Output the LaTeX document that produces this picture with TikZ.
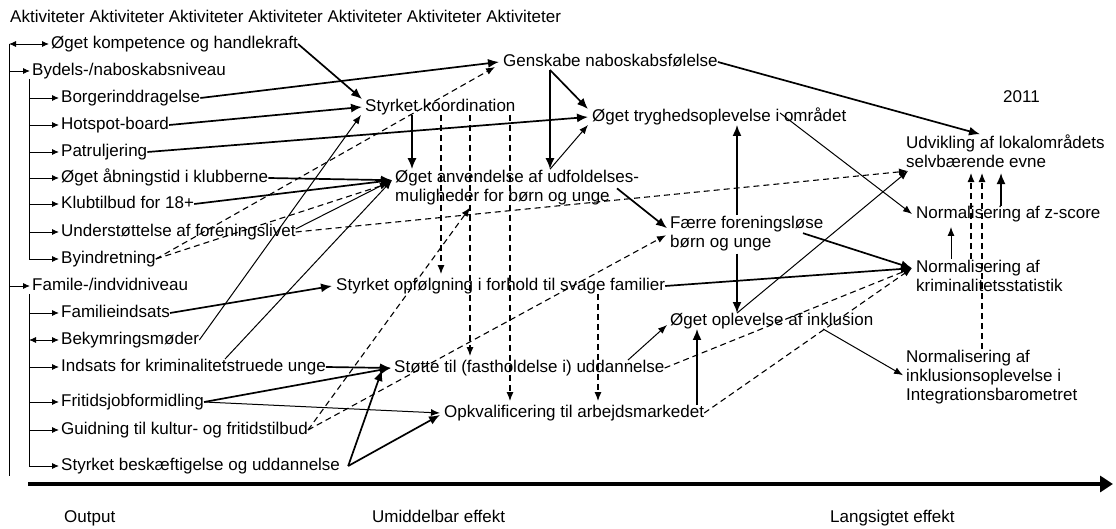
\documentclass[tikz,border=0pt]{standalone}
\usepackage{fontspec}
\setmainfont{Liberation Sans}
\usetikzlibrary{arrows.meta}
\tikzset{
  txt/.style={anchor=west, inner sep=0pt, text height=12pt, text depth=3.5pt},
  blk/.style={anchor=north west, inner sep=0pt, align=left},
  heavy/.style={line width=1.7pt, -{Latex[length=11pt,width=9pt]}},
  light/.style={line width=1pt, -{Latex[length=9pt,width=7pt]}},
  broken/.style={line width=1.1pt, dash pattern=on 6pt off 4pt, -{Latex[length=9pt,width=7pt]}},
  tree/.style={line width=0.9pt, -{Latex[length=7pt,width=6pt]}},
  twoway/.style={line width=0.9pt, {Latex[length=7pt,width=6pt]}-{Latex[length=7pt,width=6pt]}},
}
\begin{document}
\begin{tikzpicture}[x=1pt,y=-1pt,font=\fontsize{17}{19}\selectfont]
\useasboundingbox (0,0) rectangle (1116,529);

\node[txt] (akt) at (10,18) {Aktiviteter Aktiviteter Aktiviteter Aktiviteter Aktiviteter Aktiviteter Aktiviteter};
\node[txt] (komp) at (51,44) {Øget kompetence og handlekraft};
\node[txt] (byd) at (32,71) {Bydels-/naboskabsniveau};
\node[txt] (borg) at (61,98) {Borgerinddragelse};
\node[txt] (hot) at (61,125) {Hotspot-board};
\node[txt] (pat) at (61,152) {Patruljering};
\node[txt] (aabn) at (61,178) {Øget åbningstid i klubberne};
\node[txt] (klub) at (61,204) {Klubtilbud for 18+};
\node[txt] (fore) at (61,232) {Understøttelse af foreningslivet};
\node[txt] (byi) at (61,259) {Byindretning};
\node[txt] (fam) at (32,286) {Famile-/indvidniveau};
\node[txt] (fami) at (61,313) {Familieindsats};
\node[txt] (bek) at (61,340) {Bekymringsmøder};
\node[txt] (inds) at (61,367) {Indsats for kriminalitetstruede unge};
\node[txt] (frit) at (61,402) {Fritidsjobformidling};
\node[txt] (guid) at (61,430) {Guidning til kultur- og fritidstilbud};
\node[txt] (besk) at (61,466) {Styrket beskæftigelse og uddannelse};

\node[txt] (koord) at (365,107) {Styrket koordination};
\node[txt] (gensk) at (503,62) {Genskabe naboskabsfølelse};
\node[txt] (tryg) at (592,117) {Øget tryghedsoplevelse i området};
\node[blk] (anv) at (395,169.2) {\strut Øget anvendelse af udfoldelses-\\muligheder for børn og unge\strut};
\node[blk] (faerre) at (670,215.2) {\strut Færre foreningsløse\\børn og unge\strut};
\node[txt] (opf) at (336,286) {Styrket opfølgning i forhold til svage familier};
\node[txt] (stoette) at (394,368) {Støtte til (fastholdelse i) uddannelse};
\node[txt] (opkv) at (444,413) {Opkvalificering til arbejdsmarkedet};
\node[txt] (inkl) at (670,321) {Øget oplevelse af inklusion};

\node[txt] (aar) at (1003,98) {2011};
\node[blk] (udv) at (906,134.2) {\strut Udvikling af lokalområdets\\selvbærende evne\strut};
\node[txt] (zscore) at (916,214) {Normalisering af z-score};
\node[blk] (krim) at (916,259.2) {\strut Normalisering af\\kriminalitetsstatistik\strut};
\node[blk] (barom) at (906,349.2) {\strut Normalisering af\\inklusionsoplevelse i\\Integrationsbarometret\strut};

\node[txt] (output) at (64,518) {Output};
\node[txt] (umid) at (372,518) {Umiddelbar effekt};
\node[txt] (lang) at (830,518) {Langsigtet effekt};

\coordinate (trunk) at (9,44);
\coordinate (trunkend) at (9,476);
\coordinate (bydx) at ([xshift=-3pt]byd.south west);
\coordinate (famx) at ([xshift=-3pt]fam.south west);
\coordinate (axstart) at (28,484);
\coordinate (axend) at (1113,484);

\draw[line width=0.9pt] (trunk) -- (trunkend);
\draw[twoway] (trunk) -- ([xshift=-2pt]komp.west);
\draw[tree] (trunk |- byd.west) -- ([xshift=-2pt]byd.west);
\draw[tree] (trunk |- fam.west) -- ([xshift=-2pt]fam.west);
\draw[tree] (bydx |- borg.west) -- ([xshift=-2pt]borg.west);
\draw[tree] (bydx |- hot.west) -- ([xshift=-2pt]hot.west);
\draw[tree] (bydx |- pat.west) -- ([xshift=-2pt]pat.west);
\draw[tree] (bydx |- aabn.west) -- ([xshift=-2pt]aabn.west);
\draw[tree] (bydx |- klub.west) -- ([xshift=-2pt]klub.west);
\draw[tree] (bydx |- fore.west) -- ([xshift=-2pt]fore.west);
\draw[tree] (bydx) |- ([xshift=-2pt]byi.west);
\draw[tree] (famx |- fami.west) -- ([xshift=-2pt]fami.west);
\draw[twoway] (famx |- bek.west) -- ([xshift=-2pt]bek.west);
\draw[tree] (famx |- inds.west) -- ([xshift=-2pt]inds.west);
\draw[tree] (famx |- frit.west) -- ([xshift=-2pt]frit.west);
\draw[tree] (famx |- guid.west) -- ([xshift=-2pt]guid.west);
\draw[tree] (famx) |- ([xshift=-2pt]besk.west);

\draw[line width=4pt, -{Triangle[length=13pt,width=16pt]}] (axstart) -- (axend);

\draw[heavy] (komp.east) -- ([xshift=-3pt]koord.north west);
\draw[heavy] (borg.east) -- ([xshift=-4pt]gensk.west);
\draw[heavy] (hot.east) -- ([xshift=-3pt]koord.west);
\draw[heavy] (pat.east) -- ([xshift=-4pt]tryg.west);
\draw[heavy] (aabn.east) -- ([xshift=-3pt,yshift=-11pt]anv.north west);
\draw[heavy] (klub.east) -- ([xshift=-3pt,yshift=-11pt]anv.north west);
\draw[light] ([yshift=3pt]fore.east) -- ([xshift=-3pt,yshift=-11pt]anv.north west);
\draw[light] (bek.east) -- ([xshift=-4pt]koord.south west);
\draw[light] ([xshift=164pt]inds.north west) -- ([xshift=-3pt,yshift=-11pt]anv.north west);
\draw[heavy] (fami.east) -- ([xshift=-4pt]opf.west);
\draw[heavy] (inds.east) -- ([xshift=-3pt]stoette.west);
\draw[heavy] (frit.east) -- ([xshift=-3pt]stoette.west);
\draw[light] (frit.east) -- ([xshift=-4pt]opkv.west);
\draw[heavy] ([xshift=8pt]besk.east) -- ([xshift=-12pt,yshift=-2pt]stoette.west);
\draw[heavy] ([xshift=8pt]besk.east) -- ([xshift=-4pt,yshift=-2pt]opkv.west);

\draw[heavy] ([xshift=47pt]koord.south west) -- ([xshift=17pt]anv.north west);
\draw[heavy] ([xshift=47pt]gensk.south west) -- ([xshift=-4pt]tryg.north west);
\draw[heavy] ([xshift=47pt]gensk.south west) -- ([xshift=155pt]anv.north west);
\draw[light] ([xshift=155pt]anv.north west) -- ([xshift=-4pt]tryg.south west);
\draw[heavy] (gensk.east) -- ([xshift=74pt]udv.north west);
\draw[light] ([xshift=188pt,yshift=4pt]tryg.west) -- ([xshift=-4pt]zscore.west);
\draw[heavy] ([xshift=222pt]anv.west) -- ([xshift=-3pt,yshift=-13pt]faerre.north west);
\draw[heavy] ([xshift=133pt,yshift=-18pt]faerre.north west) -- ([xshift=-4pt,yshift=-9pt]krim.north west);
\draw[heavy] (opf.east) -- ([xshift=-4pt,yshift=-9pt]krim.north west);
\draw[heavy] ([xshift=67pt]faerre.north west) -- ([xshift=145pt]tryg.south west);
\draw[heavy] ([xshift=67pt]faerre.south west) -- ([xshift=67pt]inkl.north west);
\draw[light] ([xshift=67pt]inkl.north west) -- ([xshift=2pt,yshift=2pt]udv.south west);
\draw[heavy] ([xshift=253pt]opkv.north west) -- ([xshift=27pt]inkl.south west);
\draw[light] ([xshift=234pt]stoette.north west) -- ([xshift=-3pt,yshift=-4pt]inkl.west);
\draw[light] ([xshift=153pt]inkl.south west) -- ([xshift=-3pt,yshift=-26pt]barom.north west);
\draw[light] ([xshift=35pt]krim.north west) -- ([xshift=35pt,yshift=-5pt]zscore.south west);
\draw[heavy] ([xshift=85pt]zscore.north west) -- ([xshift=95pt]udv.south west);
\draw[broken] ([xshift=55pt]krim.north west) -- ([xshift=65pt]udv.south west);
\draw[broken] ([xshift=76pt]barom.north west) -- ([xshift=76pt]udv.south west);

\draw[broken] (byi.east) -- ([xshift=-8pt,yshift=-5pt]gensk.west);
\draw[broken] (byi.east) -- ([xshift=-6pt,yshift=-14pt]anv.north west);
\draw[broken] (fore.east) -- ([xshift=2pt,yshift=2pt]udv.south west);
\draw[broken] (guid.east) -- ([xshift=75pt]anv.south west);
\draw[broken] (guid.east) -- ([xshift=-4pt,yshift=-20pt]faerre.north west);
\draw[broken] (stoette.east) -- ([xshift=-4pt,yshift=-9pt]krim.north west);
\draw[broken] (opkv.east) -- ([xshift=-4pt,yshift=-9pt]krim.north west);
\draw[broken] ([xshift=76pt]koord.south west) -- ([xshift=105pt,yshift=4pt]opf.north west);
\draw[broken] ([xshift=105pt]koord.south west) -- ([xshift=76pt,yshift=4pt]stoette.north west);
\draw[broken] ([xshift=145pt]koord.south west) -- ([xshift=66pt,yshift=4pt]opkv.north west);
\draw[broken] ([xshift=262pt]opf.south west) -- ([xshift=154pt,yshift=4pt]opkv.north west);
\end{tikzpicture}
\end{document}
